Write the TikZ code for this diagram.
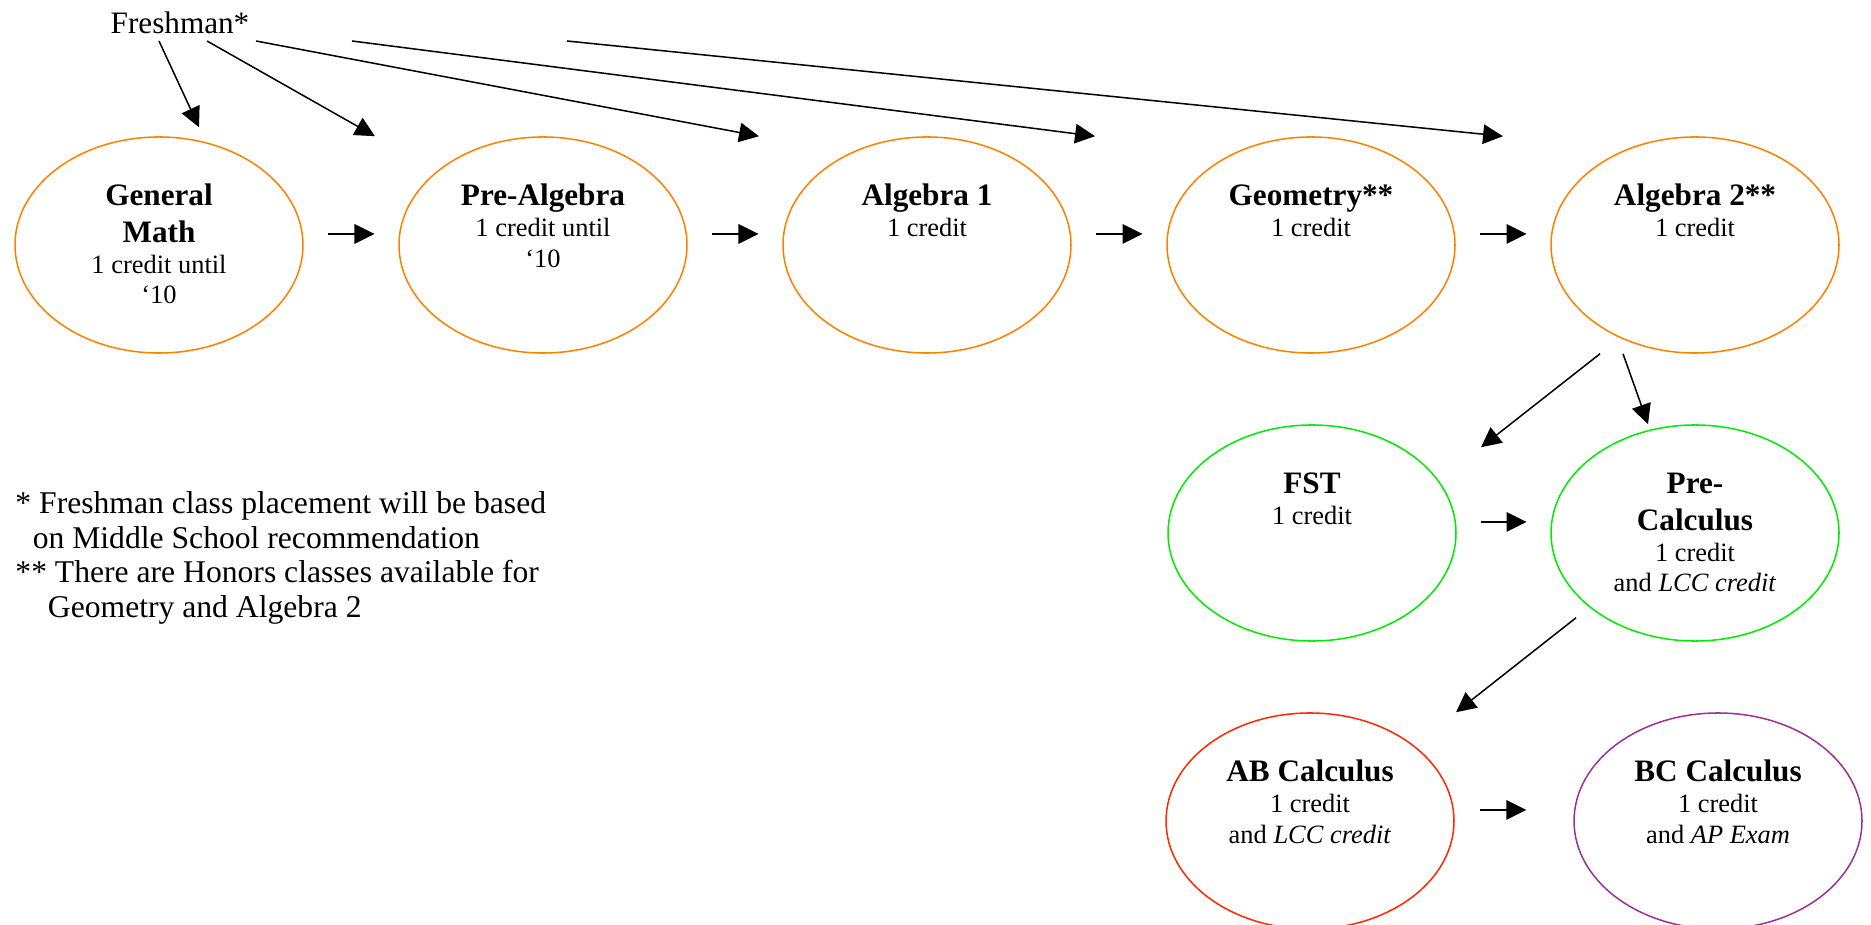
\documentclass[tikz,border=0pt]{standalone}
\usepackage{fontspec}
\setmainfont{Liberation Serif}
\usetikzlibrary{shapes.geometric,arrows.meta,calc}

\definecolor{orangeline}{RGB}{255,128,0}
\definecolor{greenline}{RGB}{0,235,0}
\definecolor{redline}{RGB}{255,40,0}
\definecolor{purpleline}{RGB}{153,51,153}

\tikzset{
  course/.style={shape=ellipse, line width=0.7pt, minimum width=132.9pt, minimum height=99.7pt, inner sep=0pt},
  ctext/.style={align=center, anchor=north, inner sep=0pt, font=\fontsize{12.2pt}{14.3pt}\selectfont},
  arr/.style={-{Triangle[length=9.2pt,width=9pt]}, line width=0.7pt},
  hstep/.style={arr, shorten <=11pt, shorten >=11pt},
}
\newcommand{\ttl}[1]{{\fontsize{14.4pt}{16.9pt}\selectfont\bfseries\rule{0pt}{10pt}#1}}

\begin{document}
\begin{tikzpicture}[x=0.4615pt, y=-0.4615pt]
\useasboundingbox (0,0) rectangle (1871,925);

\node[anchor=base, inner sep=0pt, font=\fontsize{14.4pt}{16pt}\selectfont] (fresh) at (180,34) {Freshman*};

% top row
\node[course,draw=orangeline] (gm) at (159,245) {};
\node[course,draw=orangeline] (pa) at (543,245) {};
\node[course,draw=orangeline] (alg1) at (927,245) {};
\node[course,draw=orangeline] (geo) at (1311,245) {};
\node[course,draw=orangeline] (alg2) at (1695,245) {};

\node[ctext] (gmtext) at ($(gm)+(0,-61.7)$) {\ttl{General}\\[2.6pt]\ttl{Math}\\1 credit until\\‘10};
\node[ctext] (patext) at ($(pa)+(0,-61.7)$) {\ttl{Pre-Algebra}\\1 credit until\\‘10};
\node[ctext] (alg1text) at ($(alg1)+(0,-61.7)$) {\ttl{Algebra 1}\\1 credit};
\node[ctext] (geotext) at ($(geo)+(0,-61.7)$) {\ttl{Geometry**}\\1 credit};
\node[ctext] (alg2text) at ($(alg2)+(0,-61.7)$) {\ttl{Algebra 2**}\\1 credit};

% second and third row
\node[course,draw=greenline] (fst) at (1312,533) {};
\node[course,draw=greenline] (pcalc) at (1695,533) {};
\node[course,draw=redline] (abc) at (1310,821) {};
\node[course,draw=purpleline] (bcc) at (1718,821) {};

\node[ctext] (fsttext) at ($(fst)+(0,-61.7)$) {\ttl{FST}\\1 credit};
\node[ctext] (pcalctext) at ($(pcalc)+(0,-61.7)$) {\ttl{Pre-}\\[2.6pt]\ttl{Calculus}\\1 credit\\and \textit{LCC credit}};
\node[ctext] (abctext) at ($(abc)+(0,-61.7)$) {\ttl{AB Calculus}\\1 credit\\and \textit{LCC credit}};
\node[ctext] (bcctext) at ($(bcc)+(0,-61.7)$) {\ttl{BC Calculus}\\1 credit\\and \textit{AP Exam}};

\node[anchor=north west, align=left, inner sep=0pt, font=\fontsize{14.6pt}{15.9pt}\selectfont] (note) at (15,491.3)
  {\rule{0pt}{10pt}* Freshman class placement will be based\\\hspace*{8pt}on Middle School recommendation\\** There are Honors classes available for\\\hspace*{15pt}Geometry and Algebra 2};

% freshman placement
\path [arr] ($(fresh.base)+(-21,7)$) edge ($(gm.north)+(40,-9)$);
\path [arr] ($(fresh.base)+(27,7)$) edge ($(pa.north)+(-168,0)$);
\path [arr] ($(fresh.base)+(76,7)$) edge ($(alg1.north)+(-168,0)$);
\path [arr] ($(fresh.base)+(172,7)$) edge ($(geo.north)+(-216,0)$);
\path [arr] ($(fresh.base)+(387,7)$) edge ($(alg2.north)+(-192,0)$);

\path [hstep] ([yshift=5.1pt]gm.east) edge ([yshift=5.1pt]pa.west);
\path [hstep] ([yshift=5.1pt]pa.east) edge ([yshift=5.1pt]alg1.west);
\path [hstep] ([yshift=5.1pt]alg1.east) edge ([yshift=5.1pt]geo.west);
\path [hstep] ([yshift=5.1pt]geo.east) edge ([yshift=5.1pt]alg2.west);
\path [hstep] ([yshift=5.1pt]fst.east) edge ([yshift=5.1pt]pcalc.west);
\path [arr, shorten <=11.5pt, shorten >=21.7pt] ([yshift=5.1pt]abc.east) edge ([yshift=5.1pt]bcc.west);

\path [arr] ($(alg2.south)+(-95,0)$) edge ($(fst.north)+(169,23)$);
\path [arr] ($(alg2.south)+(-72,0)$) edge ($(pcalc.north)+(-47,0)$);
\path [arr] ($(pcalc.south)+(-119,-24)$) edge ($(abc.north)+(146,0)$);
\end{tikzpicture}
\end{document}
